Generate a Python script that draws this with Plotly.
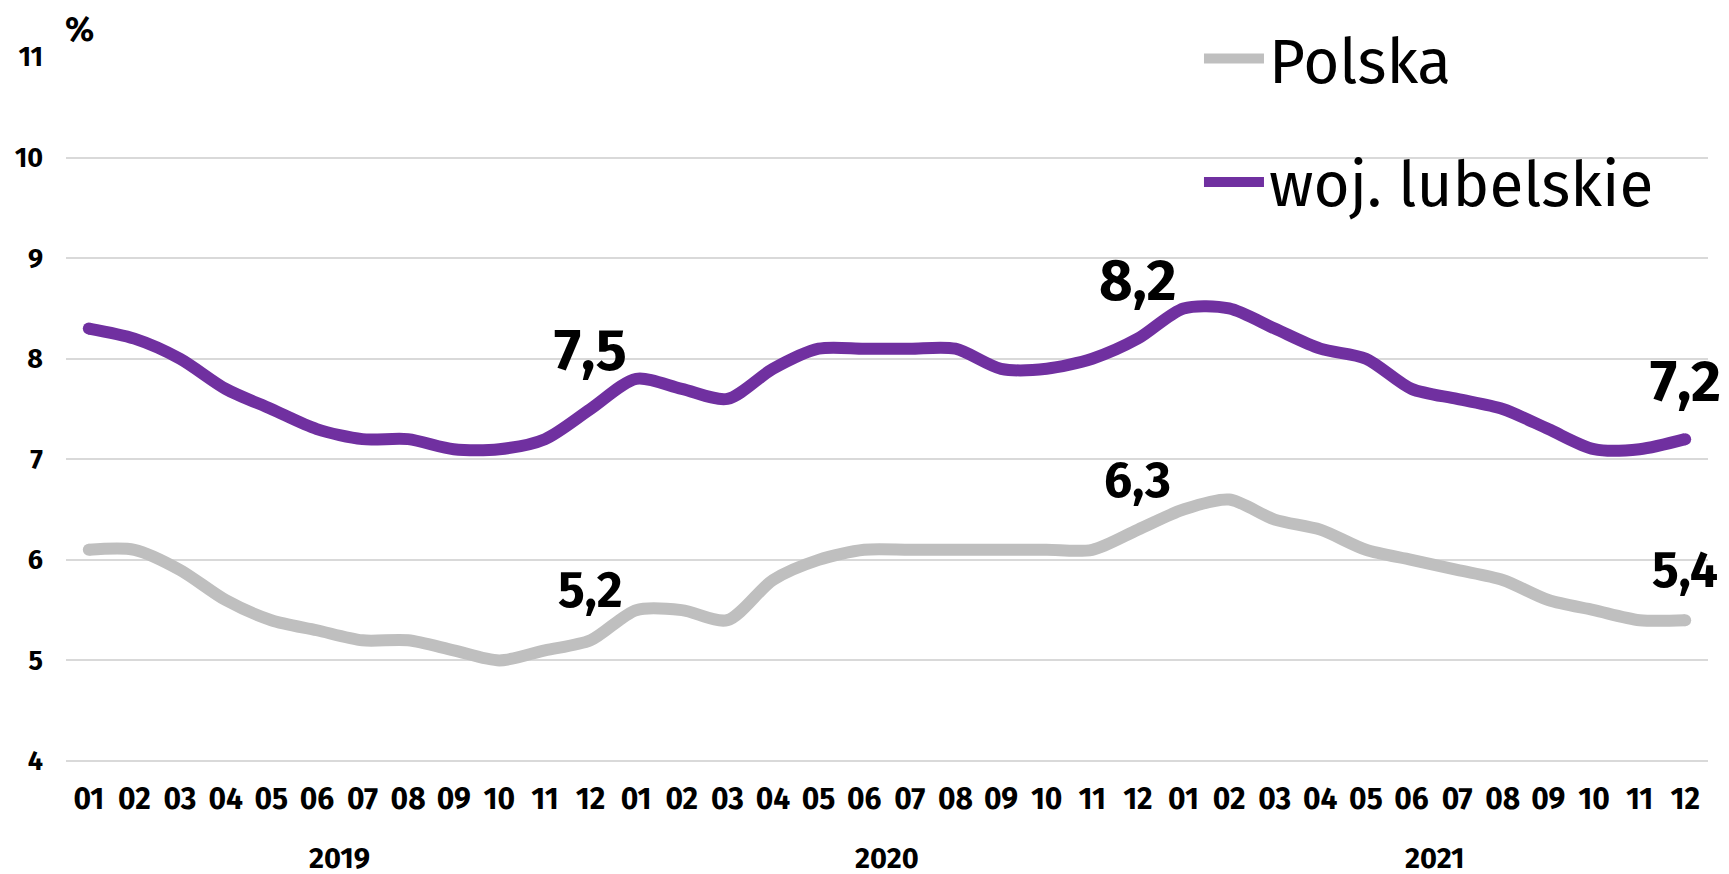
import plotly.graph_objects as go

# ---- data ----
years = ["2019", "2020", "2021"]
months = ["01", "02", "03", "04", "05", "06", "07", "08", "09", "10", "11", "12"]
categories = [f"{y}-{m}" for y in years for m in months]
tick_labels = [m for y in years for m in months]

polska = [6.1, 6.1, 5.9, 5.6, 5.4, 5.3, 5.2, 5.2, 5.1, 5.0, 5.1, 5.2,
          5.5, 5.5, 5.4, 5.8, 6.0, 6.1, 6.1, 6.1, 6.1, 6.1, 6.1, 6.3,
          6.5, 6.6, 6.4, 6.3, 6.1, 6.0, 5.9, 5.8, 5.6, 5.5, 5.4, 5.4]
lubelskie = [8.3, 8.2, 8.0, 7.7, 7.5, 7.3, 7.2, 7.2, 7.1, 7.1, 7.2, 7.5,
             7.8, 7.7, 7.6, 7.9, 8.1, 8.1, 8.1, 8.1, 7.9, 7.9, 8.0, 8.2,
             8.5, 8.5, 8.3, 8.1, 8.0, 7.7, 7.6, 7.5, 7.3, 7.1, 7.1, 7.2]

labeled_idx = [11, 23, 35]  # months with value labels

GREY = "#BFBFBF"
PURPLE = "#7030A0"
FONT = "Fira Sans, Lato, Noto Sans, sans-serif"

fig = go.Figure()

series = [("Polska", polska, GREY), ("woj. lubelskie", lubelskie, PURPLE)]
for name, vals, col in series:
    fig.add_trace(go.Scatter(
        x=categories, y=vals, name=name, mode="lines",
        line=dict(color=col, width=12, shape="spline", smoothing=0.8),
        legendgroup=name, hoverinfo="skip",
    ))
    # round end caps
    fig.add_trace(go.Scatter(
        x=[categories[0], categories[-1]], y=[vals[0], vals[-1]],
        mode="markers", marker=dict(color=col, size=12),
        showlegend=False, hoverinfo="skip",
    ))

# value labels
for i in labeled_idx:
    fig.add_annotation(x=categories[i], y=lubelskie[i], xref="x", yref="y",
                       text=f"{lubelskie[i]:.1f}".replace(".", ","),
                       showarrow=False, yshift=58,
                       font=dict(family=FONT, size=58, color="black", weight="bold"))
    fig.add_annotation(x=categories[i], y=polska[i], xref="x", yref="y",
                       text=f"{polska[i]:.1f}".replace(".", ","),
                       showarrow=False, yshift=50,
                       font=dict(family=FONT, size=50, color="black", weight="bold"))

# year labels
for k, y in enumerate(years):
    fig.add_annotation(x=12 * k + 5.5, y=0, xref="x", yref="paper",
                       text=y, showarrow=False, yshift=-110, height=30,
                       font=dict(family=FONT, size=29, color="black", weight="bold"))

# % unit
fig.add_annotation(x=0, y=1, xref="paper", yref="paper", text="%",
                   showarrow=False, xshift=-3, yshift=50,
                   font=dict(family=FONT, size=34, color="black", weight="bold"))

fig.update_layout(
    width=1729, height=874,
    margin=dict(l=66, r=21, t=57, b=109),
    plot_bgcolor="white", paper_bgcolor="white",
    font=dict(family=FONT, color="black"),
    showlegend=True,
    legend=dict(x=0.69, y=1.064, xanchor="left", yanchor="top",
                font=dict(family=FONT, size=62, color="black"),
                tracegroupgap=40, itemwidth=60, bgcolor="rgba(0,0,0,0)"),
    xaxis=dict(type="category", categoryorder="array", categoryarray=categories,
               tickvals=categories, ticktext=tick_labels,
               range=[-0.5, len(categories) - 0.5],
               showgrid=False, zeroline=False, showline=False, ticks="",
               ticklabelstandoff=13,
               tickfont=dict(family=FONT, size=30, color="black", weight="bold")),
    yaxis=dict(range=[3.96, 11], tickvals=[4, 5, 6, 7, 8, 9, 10, 11],
               showgrid=True, gridcolor="#D9D9D9", gridwidth=1.5,
               zeroline=False, showline=False, ticks="", ticklabelstandoff=22,
               tickfont=dict(family=FONT, size=27, color="black", weight="bold")),
)

fig.write_html("out.html", config={"displayModeBar": False},
               post_script="document.body.style.margin='0';document.body.style.overflow='hidden';")
